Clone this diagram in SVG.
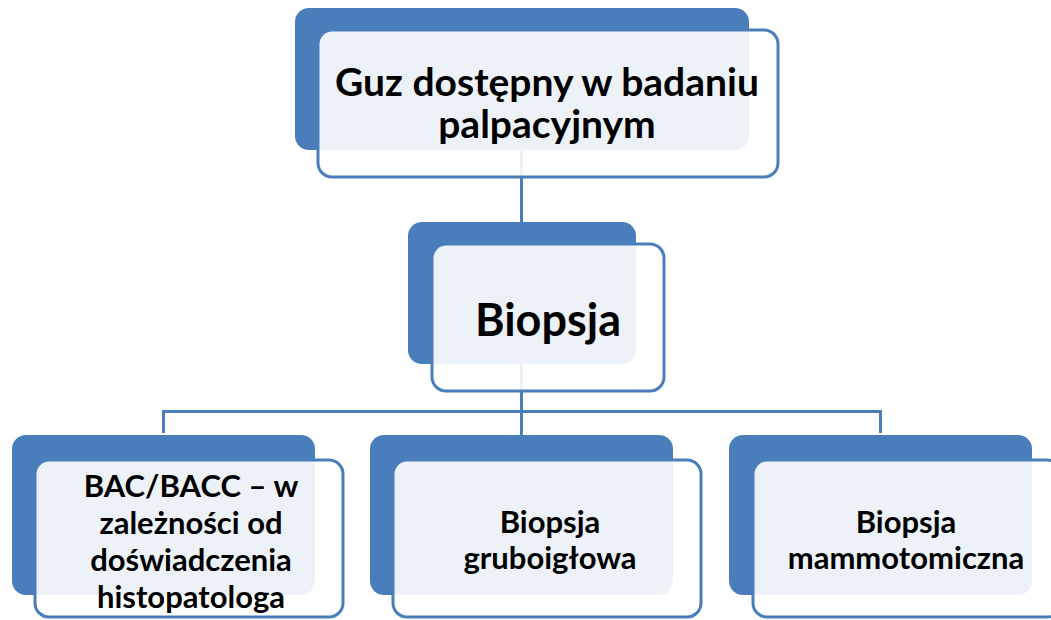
<svg xmlns="http://www.w3.org/2000/svg" width="1051" height="620" viewBox="0 0 1051 620">
  <style>
    .back { fill: #4a7ebb; }
    .front { fill: #ffffff; fill-opacity: 0.9; stroke: #4a7ebb; stroke-width: 3; }
    .wire { fill: none; stroke: #4a7ebb; stroke-width: 3; }
    .label { font-family: Lato, "Liberation Sans", sans-serif; font-weight: bold; fill: #000000; text-anchor: middle; }
    .t1 { font-size: 39px; }
    .t2 { font-size: 45px; }
    .t3 { font-size: 31px; }
  </style>
  <rect width="1051" height="620" fill="#ffffff"/>

  <!-- connectors -->
  <g id="connectors">
    <path class="wire" d="M521.5,150 V222"/>
    <path class="wire" d="M521.5,364 V435"/>
    <path class="wire" d="M163.5,433 V411.5 H880.5 V433"/>
  </g>

  <!-- top node -->
  <g id="node-guz">
    <rect class="back" x="295" y="8" width="454" height="142" rx="14"/>
    <rect class="front" x="318" y="30" width="460" height="147" rx="14"/>
    <text class="label t1" x="547" y="96">Guz dostępny w badaniu</text>
    <text class="label t1" x="547" y="138">palpacyjnym</text>
  </g>

  <!-- biopsy node -->
  <g id="node-biopsja">
    <rect class="back" x="408" y="222" width="228" height="142" rx="14"/>
    <rect class="front" x="432" y="244" width="232" height="147" rx="14"/>
    <text class="label t2" x="548" y="336">Biopsja</text>
  </g>

  <!-- BAC/BACC node -->
  <g id="node-bac">
    <rect class="back" x="12" y="435" width="303" height="160" rx="14"/>
    <rect class="front" x="35" y="460" width="308" height="157" rx="14"/>
    <text class="label t3" x="191" y="497">BAC/BACC – w</text>
    <text class="label t3" x="191" y="534">zależności od</text>
    <text class="label t3" x="191" y="571">doświadczenia</text>
    <text class="label t3" x="191" y="608">histopatologa</text>
  </g>

  <!-- core needle node -->
  <g id="node-gruboiglowa">
    <rect class="back" x="370" y="435" width="303" height="160" rx="14"/>
    <rect class="front" x="393" y="460" width="308" height="157" rx="14"/>
    <text class="label t3" x="550" y="533">Biopsja</text>
    <text class="label t3" x="550" y="569">gruboigłowa</text>
  </g>

  <!-- vacuum-assisted node -->
  <g id="node-mammotomiczna">
    <rect class="back" x="729" y="435" width="303" height="160" rx="14"/>
    <rect class="front" x="753" y="460" width="308" height="157" rx="14"/>
    <text class="label t3" x="906" y="533">Biopsja</text>
    <text class="label t3" x="906" y="569">mammotomiczna</text>
  </g>
</svg>
